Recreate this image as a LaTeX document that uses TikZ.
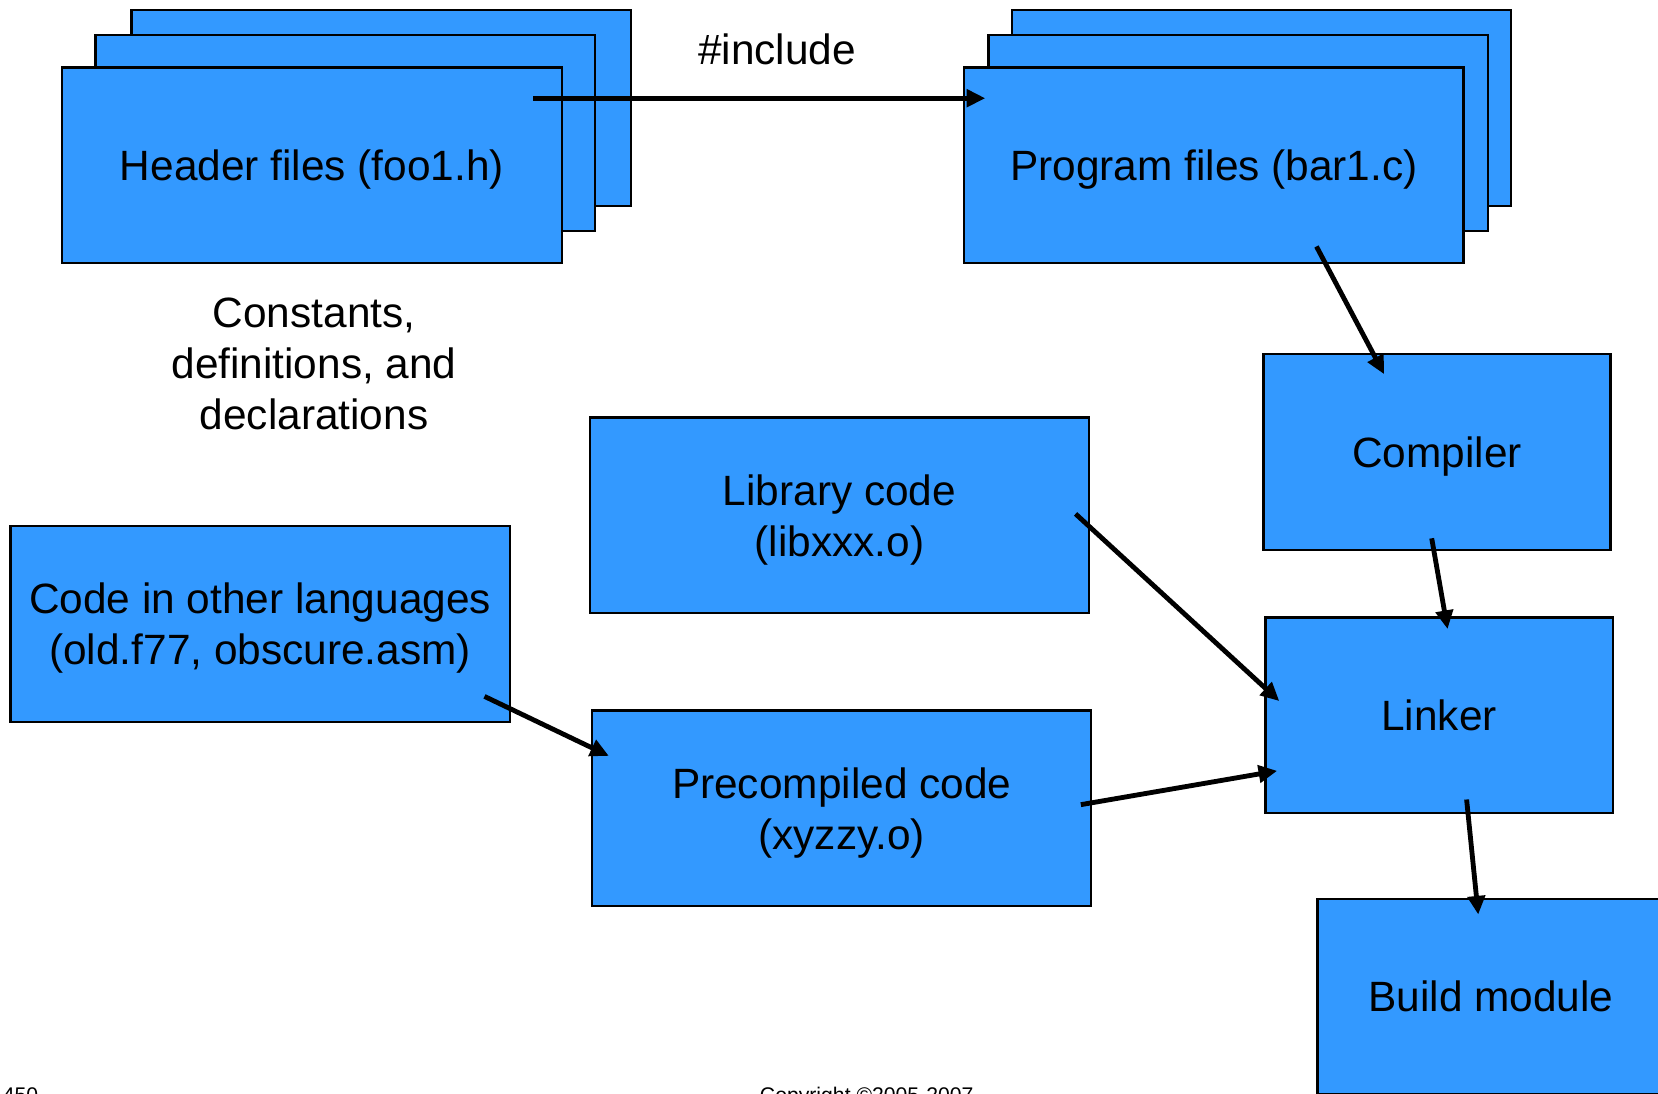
\documentclass[tikz,border=0pt]{standalone}
\usepackage{fontspec}
\setmainfont{Liberation Sans}
\usetikzlibrary{arrows.meta}
\definecolor{boxblue}{RGB}{51,153,255}

\begin{document}
\begin{tikzpicture}[x=0.01cm, y=-0.01cm,
    txt/.style={font=\fontsize{11.4}{13.7}\selectfont, align=center},
    bigbox/.style={txt, draw=black, line width=0.6pt, fill=boxblue, text depth=0pt,
                   minimum width=4.72cm, minimum height=1.85cm, inner sep=0pt},
    smallbox/.style={bigbox, minimum width=3.28cm},
    arr/.style={line width=1.3pt, -{Triangle[length=5pt, width=4.6pt]}},
    foot/.style={font=\fontsize{5.7}{6.8}\selectfont, inner sep=0pt, anchor=base west}]
    \useasboundingbox (0,0) rectangle (1568,1034);
    \clip (0,0) rectangle (1568,1034);

    \node [bigbox] (hdr3) at (360.5, 102) {};
    \node [bigbox] (hdr2) at (326.5, 126) {};
    \node [bigbox] (hdr) at (295, 156.5) {Header files (foo1.h)};

    \node [bigbox] (prog3) at (1193, 102) {};
    \node [bigbox] (prog2) at (1171, 126) {};
    \node [bigbox] (prog) at (1148, 156.5) {Program files (bar1.c)};

    \node [txt] (inc) at (735, 47) {\#include};
    \draw [arr] ([shift={(-28,30)}]hdr.north east) to ([shift={(21,30)}]prog.north west);

    \node [txt] (defs) at (297, 344) {Constants,\\definitions, and\\declarations};

    \node [smallbox] (comp) at (1359, 427.5) {Compiler};
    \node [bigbox] (lib) at (794, 487.5) {Library code\\(libxxx.o)};
    \node [bigbox] (other) at (246, 590) {Code in other languages\\(old.f77, obscure.asm)};
    \node [smallbox] (link) at (1361, 676.5) {Linker};
    \node [bigbox] (pre) at (796, 764.5) {Precompiled code\\(xyzzy.o)};
    \node [smallbox] (build) at (1410, 942.5) {Build module};

    \draw [arr] ([shift={(97,-17)}]prog.south) to ([shift={(-50,20)}]comp.north);
    \draw [arr] ([shift={(-5,-12)}]comp.south) to ([shift={(8,12)}]link.north);
    \draw [arr] ([shift={(-14,-1.5)}]lib.east) to ([shift={(14,-13.5)}]link.west);
    \draw [arr] ([shift={(-25,-25)}]other.south east) to ([shift={(17,44)}]pre.north west);
    \draw [arr] ([shift={(-11,-3.5)}]pre.east) to ([shift={(12,52.5)}]link.west);
    \draw [arr] ([shift={(26,-14)}]link.south) to ([shift={(-12,16)}]build.north);

    \node [foot] (page) at (2, 1043) {450};
    \node [foot] (copy) at (718, 1043) {Copyright \textcopyright2005-2007};
\end{tikzpicture}
\end{document}
